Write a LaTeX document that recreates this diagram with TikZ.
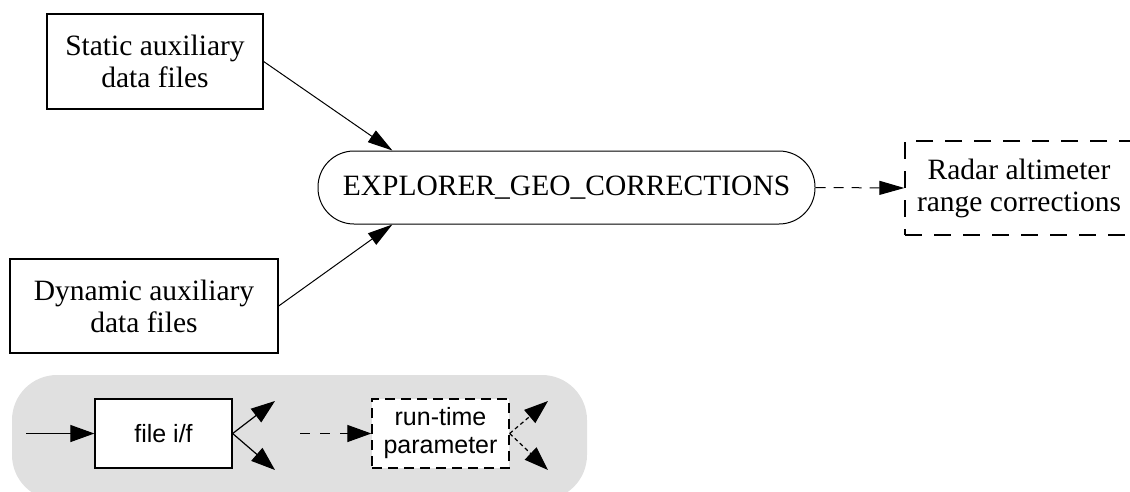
\documentclass[tikz,border=0pt]{standalone}
\usepackage{fontspec}
\setmainfont{Liberation Serif}
\newfontfamily\legendfont{Liberation Sans}
\usetikzlibrary{arrows.meta,calc}
\tikzset{
  box/.style={draw, line width=1.3pt, align=center, inner sep=0pt, font=\fontsize{29.5}{32}\selectfont},
  dbox/.style={box, dash pattern=on 17pt off 12pt},
  procnode/.style={draw, line width=1pt, rounded corners=36pt, align=center, inner sep=0pt, minimum width=497pt, minimum height=73pt, font=\fontsize{29.5}{32}\selectfont},
  conn/.style={line width=1pt, -{Triangle[length=25pt,width=14pt]}},
  dconn/.style={conn, dash pattern=on 10pt off 8pt},
  lbox/.style={draw, line width=1.3pt, fill=white, align=center, inner sep=0pt, minimum width=137pt, minimum height=69pt, font=\legendfont\fontsize{25}{28}\selectfont},
  ldbox/.style={lbox, dash pattern=on 10pt off 6pt},
  lconn/.style={line width=1.2pt, -{Triangle[length=24pt,width=17pt]}},
  ldconn/.style={lconn, dash pattern=on 10pt off 10pt},
  lsconn/.style={lconn, dash pattern=on 4pt off 3pt},
}
\definecolor{legendgray}{RGB}{224,224,224}
\begin{document}
\begin{tikzpicture}[x=1pt,y=-1pt]
\useasboundingbox (0,0) rectangle (1130,491);
% nodes
\node[box, minimum width=216pt, minimum height=95pt] (static) at (155,61.5) {Static auxiliary\\data files};
\node[box, minimum width=268pt, minimum height=94pt] (dynamic) at (144,306) {Dynamic auxiliary\\data files};
\node[procnode] (geo) at (566.5,187.5) {EXPLORER\_GEO\_CORRECTIONS};
\node[dbox, minimum width=228pt, minimum height=94pt] (radar) at (1019,188) {Radar altimeter\\range corrections};
% connectors
\draw[conn] (static.east) -- (geo.168);
\draw[conn] (dynamic.east) -- (geo.192);
\draw[dconn] (geo.east) -- (radar.west);
% legend
\fill[legendgray, rounded corners=45pt] (12,375) rectangle (587,500);
\node[lbox] (file) at (163.5,433.5) {file i/f};
\node[ldbox] (param) at (440.5,433.5) {run-time\\parameter};
\coordinate (fin) at (26,433.5);
\coordinate (fo1) at (275,401);
\coordinate (fo2) at (275,470);
\coordinate (pin) at (300,433.5);
\coordinate (po1) at (548,401);
\coordinate (po2) at (548,470);
\draw[lconn] (fin) -- (file.west);
\draw[lconn] (file.east) -- (fo1);
\draw[lconn] (file.east) -- (fo2);
\draw[ldconn] (pin) -- (param.west);
\draw[lsconn] (param.east) -- (po1);
\draw[lsconn] (param.east) -- (po2);
\end{tikzpicture}
\end{document}
